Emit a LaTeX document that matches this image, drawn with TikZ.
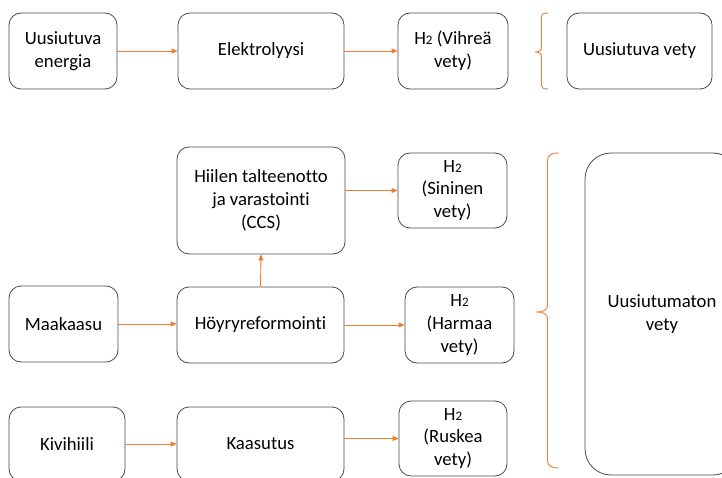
\documentclass[tikz,border=0pt]{standalone}
\usepackage{fontspec}
\setmainfont{Carlito}[Ligatures=NoCommon]
\usetikzlibrary{arrows.meta}
\definecolor{flow}{HTML}{ED7D31}
\definecolor{edge}{HTML}{4A4A4A}
\newcommand{\htwo}{H{\fontsize{13}{13}\selectfont 2}}
\tikzset{
  stage/.style={draw=edge, line width=0.8pt, rounded corners=12pt, align=center,
    inner sep=0pt, font=\fontsize{18.7}{22.8}\selectfont},
  flowarrow/.style={draw=flow, line width=0.9pt, -{Triangle[length=6pt,width=5pt]}},
  bracket/.style={draw=flow, line width=0.9pt}
}
\begin{document}
\begin{tikzpicture}[x=1pt, y=-1pt]
\path[use as bounding box, clip] (0,0) rectangle (722,478);

% renewable route
\node[stage, minimum width=108pt, minimum height=76pt] (ue) at (63,51) {Uusiutuva\\energia};
\node[stage, minimum width=166pt, minimum height=76pt] (el) at (261,51) {Elektrolyysi};
\node[stage, minimum width=110pt, minimum height=76pt] (vih) at (453,51) {\htwo{} (Vihreä\\vety)};
\node[stage, minimum width=145pt, minimum height=76pt] (uv) at (639.5,51) {Uusiutuva vety};

% fossil routes
\node[stage, minimum width=168pt, minimum height=107pt] (ccs) at (261,200.5) {Hiilen talteenotto\\ja varastointi\\(CCS)};
\node[stage, minimum width=109pt, minimum height=75pt] (sin) at (452.5,190.5) {\htwo\\(Sininen\\vety)};
\node[stage, minimum width=109pt, minimum height=76pt] (maa) at (63.5,324) {Maakaasu};
\node[stage, minimum width=167pt, minimum height=76pt] (hoy) at (260.5,325) {Höyryreformointi};
\node[stage, minimum width=109pt, minimum height=76pt] (har) at (459.5,325) {\htwo\\(Harmaa\\vety)};
\node[stage, minimum width=116pt, minimum height=74pt] (kiv) at (67,444) {Kivihiili};
\node[stage, minimum width=167pt, minimum height=74pt] (kaa) at (260.5,444) {Kaasutus};
\node[stage, minimum width=108pt, minimum height=75pt] (rus) at (453,438.5) {\htwo\\(Ruskea\\vety)};
\node[stage, rounded corners=26pt, minimum width=154pt, minimum height=322pt] (unv) at (662,314) {Uusiutumaton\\vety};

% flows
\draw[flowarrow] (ue.east) -- (el.west);
\draw[flowarrow] (el.east) -- (vih.west);
\draw[flowarrow] (ccs.east |- sin.west) -- (sin.west);
\draw[flowarrow] (hoy.north) -- (ccs.south);
\draw[flowarrow] (maa.east) -- (maa.east -| hoy.west);
\draw[flowarrow] (hoy.east) -- (har.west);
\draw[flowarrow] (kiv.east) -- (kaa.west);
\draw[flowarrow] (kaa.east |- rus.west) -- (rus.west);

% grouping braces
\draw[bracket] (548,13) .. controls (543,13) and (541.5,14) .. (541.5,18) -- (541.5,47)
  .. controls (541.5,50.5) and (539.5,52) .. (535,52)
  .. controls (539.5,52) and (541.5,53.5) .. (541.5,57) -- (541.5,84)
  .. controls (541.5,88) and (543,89) .. (548,89);
\draw[bracket] (559,153) .. controls (551,153) and (547.5,155) .. (547.5,161) -- (547.5,305)
  .. controls (547.5,310) and (544,312) .. (536,312)
  .. controls (544,312) and (547.5,314) .. (547.5,319) -- (547.5,460)
  .. controls (547.5,466) and (551,468) .. (559,468);
\end{tikzpicture}
\end{document}
